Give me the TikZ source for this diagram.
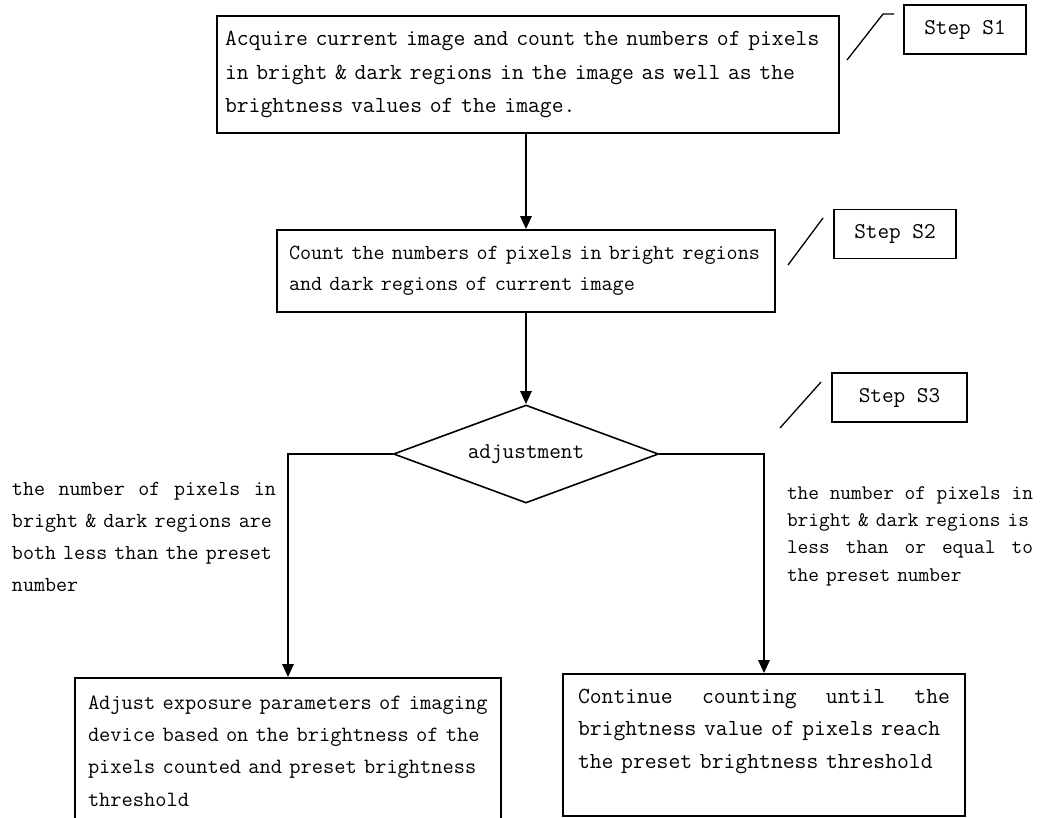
\documentclass[tikz,border=0pt]{standalone}
\usepackage{fontspec}
\usepackage{tikz}
\usetikzlibrary{positioning, arrows.meta, shapes.geometric}

\begin{document}
\begin{tikzpicture}[x=1pt, y=-1pt]
\tikzstyle{box}=[draw, rectangle, line width=1.6pt, inner ysep=0pt, align=left]
\tikzstyle{stepbox}=[draw, rectangle, line width=1.3pt, minimum height=49pt, font=\ttfamily\fontsize{22.6}{26}\selectfont]
\tikzstyle{note}=[inner sep=0pt, align=left]
\tikzstyle{lead}=[draw, line width=1.3pt]
\tikzstyle{path}=[draw, -{Triangle[length=13pt, width=11pt]}, line width=2.6pt]

\def \cx {526}

\useasboundingbox (0,0) rectangle (1041,817);

\node[box, text width=606pt, inner xsep=8pt, minimum height=117pt, font=\ttfamily\fontsize{23}{33.5}\selectfont]
	(acquire) at (528, 74.5) {Acquire current image and count the numbers of pixels\\in bright \& dark regions in the image as well as the\\brightness values of the image.};
\node[box, text width=474pt, inner xsep=12pt, minimum height=82pt, font=\ttfamily\fontsize{21.5}{31}\selectfont]
	(count) at (\cx, 271) {Count the numbers of pixels in bright regions\\and dark regions of current image};
\node[diamond, aspect=2.7, draw, line width=1.6pt, inner sep=0pt, minimum width=265pt, minimum height=98pt, font=\ttfamily\fontsize{22.6}{26}\selectfont]
	(adjust) at (\cx, 454) {adjustment};

\node[box, text width=400pt, inner xsep=13pt, minimum height=146pt, font=\ttfamily\fontsize{21.8}{32.3}\selectfont]
	(expose) at (288, 751) {Adjust exposure parameters of imaging\\device based on the brightness of the\\pixels counted and preset brightness\\threshold};
\node[box, text width=372pt, inner xsep=15pt, minimum height=142pt, font=\ttfamily\fontsize{23}{32.5}\selectfont]
	(keep) at (764, 745) {\makebox[\hsize]{Continue\hfill counting\hfill until\hfill the}\\brightness value of pixels reach\\the preset brightness threshold\\\mbox{}};

\node[note, text width=264pt, font=\ttfamily\fontsize{21.4}{32.3}\selectfont]
	(less) at (144, 537) {\makebox[\hsize]{the\hfill number\hfill of\hfill pixels\hfill in}\\bright \& dark regions are\\both less than the preset\\number};
\node[note, text width=246pt, font=\ttfamily\fontsize{20.8}{27.3}\selectfont]
	(equal) at (910, 536) {\makebox[\hsize]{the\hfill number\hfill of\hfill pixels\hfill in}\\bright \& dark regions is\\\makebox[\hsize]{less\hfill than\hfill or\hfill equal\hfill to}\\the preset number};

\node[stepbox, minimum width=122pt] (s1) at (965, 29.5) {Step S1};
\node[stepbox, minimum width=122pt] (s2) at (895, 234) {Step S2};
\node[stepbox, minimum width=135pt] (s3) at (899.5, 397.5) {Step S3};

\coordinate (l1a) at (847, 60);
\coordinate (l1b) at (883, 14);
\coordinate (l1c) at (894, 14);
\coordinate (l2a) at (788, 265);
\coordinate (l2b) at (823, 218);
\coordinate (l3a) at (780, 428);
\coordinate (l3b) at (821, 382);

\path[lead] (l1a) -- (l1b) -- (l1c);
\path[lead] (l2a) -- (l2b);
\path[lead] (l3a) -- (l3b);

\path[path] (acquire.south -| count.north) -- (count.north);
\path[path] (count) -- (adjust);
\path[path] (adjust.west) -| (expose.north);
\path[path] (adjust.east) -| (keep.north);

\end{tikzpicture}
\end{document}
